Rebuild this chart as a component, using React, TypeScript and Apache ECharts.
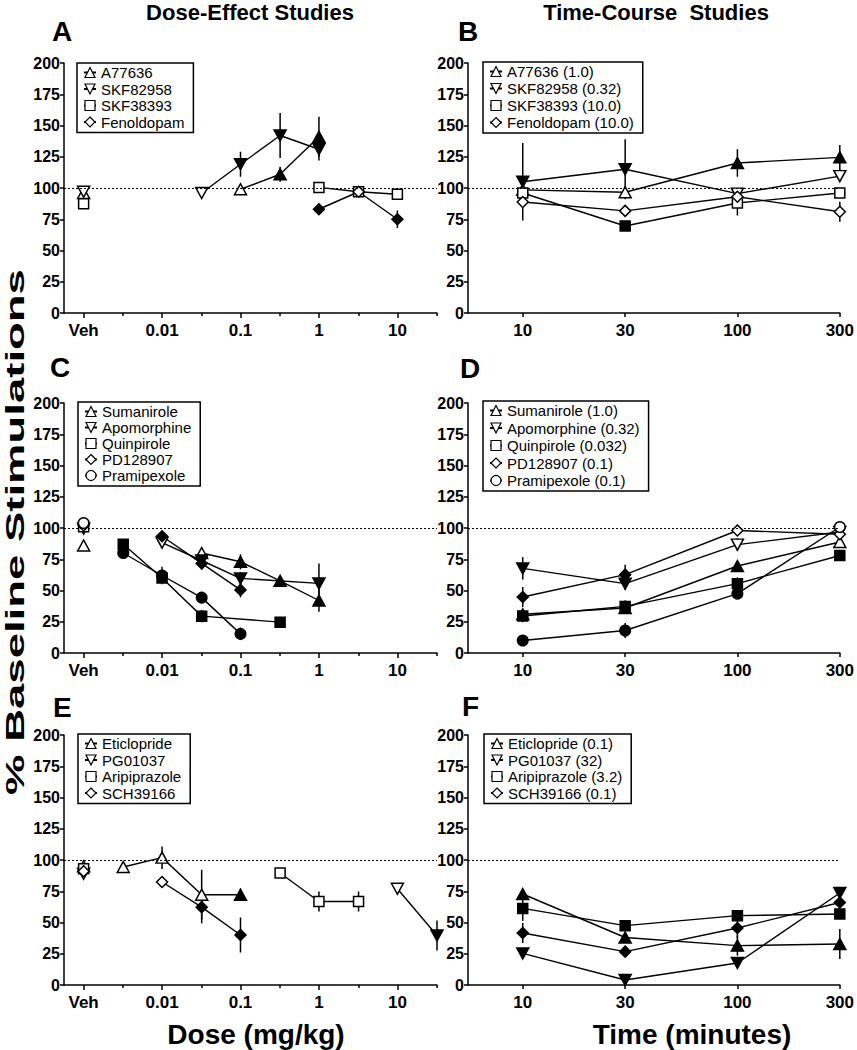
import React, { useEffect, useRef } from 'react';
import * as echarts from 'echarts';

const FONT = 'Arial, "Liberation Sans", Helvetica, sans-serif';

// Tick labels
const doseTickLabels = ['Veh', '0.01', '0.1', '1', '10'];
const doseTickDoses = [0, 0.01, 0.1, 1, 10]; // 0 = vehicle
const doseMinorDoses = [0.0032, 0.032, 0.32, 3.2, 32];
const timeTicks = [10, 30, 100, 300];

// Rows: [dose mg/kg (0 = vehicle) or time min, mean % baseline, SEM, filled (1 = significant)]
const A_A77636 = [[0, 96, 0, 0], [0.1, 99, 0, 0], [0.32, 111, 6, 1], [1, 141, 16, 1]];
const A_SKF82958 = [[0, 97, 0, 0], [0.032, 96, 0, 0], [0.1, 119, 10, 1], [0.32, 142, 18, 1], [1, 131, 9, 1]];
const A_SKF38393 = [[0, 87.5, 0, 0], [1, 100.5, 0, 0], [3.2, 97, 4, 0], [10, 95, 0, 0]];
const A_Fenoldopam = [[1, 83, 0, 1], [3.2, 97, 0, 0], [10, 75, 7, 1]];

const B_A77636 = [[10, 98.5, 0, 0], [30, 96.6, 0, 0], [100, 120, 11, 1], [300, 124.5, 10, 1]];
const B_SKF82958 = [[10, 105, 31, 1], [30, 115, 24, 1], [100, 95.5, 0, 0], [300, 109.5, 0, 0]];
const B_SKF38393 = [[10, 96, 0, 0], [30, 69.6, 0, 1], [100, 88, 10, 0], [300, 96, 0, 0]];
const B_Fenoldopam = [[10, 88.8, 0, 0], [30, 81.7, 0, 0], [100, 93, 0, 0], [300, 81, 8, 0]];

const C_Sumanirole = [[0, 86, 0, 0], [0.032, 80, 0, 0], [0.1, 73, 6, 1], [0.32, 57.7, 0, 1], [1, 42, 9, 1]];
const C_Apomorphine = [[0, 99.5, 0, 0], [0.01, 88.3, 0, 0], [0.032, 74, 0, 1], [0.1, 59.7, 5, 1], [1, 55.7, 16, 1]];
const C_Quinpirole = [[0, 101, 0, 0], [0.0032, 87, 0, 1], [0.01, 60, 0, 1], [0.032, 29.5, 5, 1], [0.32, 24.7, 0, 1]];
const C_PD128907 = [[0, 102, 0, 0], [0.01, 93.4, 0, 1], [0.032, 71.7, 5, 1], [0.1, 50.5, 6, 1]];
const C_Pramipexole = [[0, 104, 0, 0], [0.0032, 80, 4, 1], [0.01, 62, 7, 1], [0.032, 44.3, 0, 1], [0.1, 15.3, 5, 1]];

const D_Sumanirole = [[10, 31, 0, 1], [30, 36, 0, 1], [100, 69.6, 0, 1], [300, 88.8, 0, 0]];
const D_Apomorphine = [[10, 67.7, 9, 1], [30, 55.5, 5, 1], [100, 86.7, 5, 0], [300, 96.8, 0, 0]];
const D_Quinpirole = [[10, 29.6, 5, 1], [30, 37.3, 5, 1], [100, 55.5, 5, 1], [300, 78, 4, 1]];
const D_PD128907 = [[10, 44.8, 8, 1], [30, 62.7, 8, 1], [100, 98, 4, 0], [300, 95, 0, 0]];
const D_Pramipexole = [[10, 10, 0, 1], [30, 18, 6, 1], [100, 47.5, 4, 1], [300, 100.8, 0, 0]];

const E_Eticlopride = [[0, 95, 0, 0], [0.0032, 94.4, 0, 0], [0.01, 101.9, 9, 0], [0.032, 72.2, 20, 0], [0.1, 72.2, 5, 1]];
const E_PG01037 = [[0, 89, 0, 0], [10, 77, 0, 0], [32, 39.6, 12, 1]];
const E_Aripiprazole = [[0, 93, 0, 0], [0.32, 89.6, 0, 0], [1, 66.8, 8, 0], [3.2, 66.8, 8, 0]];
const E_SCH39166 = [[0, 91, 0, 0], [0.01, 82.4, 0, 0], [0.032, 62.3, 13, 1], [0.1, 40, 14, 1]];

const F_Eticlopride = [[10, 72.8, 0, 1], [30, 38, 0, 1], [100, 31.5, 8, 1], [300, 32.8, 12, 1]];
const F_PG01037 = [[10, 25.3, 0, 1], [30, 4, 0, 1], [100, 17.6, 0, 1], [300, 73.6, 0, 1]];
const F_Aripiprazole = [[10, 61.3, 10, 1], [30, 47.5, 0, 1], [100, 55.5, 0, 1], [300, 56.8, 0, 1]];
const F_SCH39166 = [[10, 41.6, 8, 1], [30, 26.7, 0, 1], [100, 45.6, 8, 1], [300, 66, 0, 1]];

const namesA = ['A77636', 'SKF82958', 'SKF38393', 'Fenoldopam'];
const namesB = ['A77636 (1.0)', 'SKF82958 (0.32)', 'SKF38393 (10.0)', 'Fenoldopam (10.0)'];
const namesC = ['Sumanirole', 'Apomorphine', 'Quinpirole', 'PD128907', 'Pramipexole'];
const namesD = ['Sumanirole (1.0)', 'Apomorphine (0.32)', 'Quinpirole (0.032)', 'PD128907 (0.1)', 'Pramipexole (0.1)'];
const namesE = ['Eticlopride', 'PG01037', 'Aripiprazole', 'SCH39166'];
const namesF = ['Eticlopride (0.1)', 'PG01037 (32)', 'Aripiprazole (3.2)', 'SCH39166 (0.1)'];

const SHAPES: Record<string, { symbol: string; rotate: number; size: any }> = {
  up: { symbol: 'triangle', rotate: 0, size: [12, 11] },
  down: { symbol: 'triangle', rotate: 180, size: [12, 11] },
  square: { symbol: 'rect', rotate: 0, size: 10 },
  diamond: { symbol: 'diamond', rotate: 0, size: 11 },
  circle: { symbol: 'circle', rotate: 0, size: 10.5 },
};

const panels = [
  { letter: 'A', kind: 'dose', col: 0, row: 0, names: namesA, data: [A_A77636, A_SKF82958, A_SKF38393, A_Fenoldopam], shapes: ['up', 'down', 'square', 'diamond'], legend: { left: 77, top: 63, gap: 1.5 } },
  { letter: 'B', kind: 'time', col: 1, row: 0, names: namesB, data: [B_A77636, B_SKF82958, B_SKF38393, B_Fenoldopam], shapes: ['up', 'down', 'square', 'diamond'], legend: { left: 483, top: 62, gap: 2 } },
  { letter: 'C', kind: 'dose', col: 0, row: 1, names: namesC, data: [C_Sumanirole, C_Apomorphine, C_Quinpirole, C_PD128907, C_Pramipexole], shapes: ['up', 'down', 'square', 'diamond', 'circle'], legend: { left: 78, top: 402, gap: 1 } },
  { letter: 'D', kind: 'time', col: 1, row: 1, names: namesD, data: [D_Sumanirole, D_Apomorphine, D_Quinpirole, D_PD128907, D_Pramipexole], shapes: ['up', 'down', 'square', 'diamond', 'circle'], legend: { left: 483, top: 401, gap: 2.5 } },
  { letter: 'E', kind: 'dose', col: 0, row: 2, names: namesE, data: [E_Eticlopride, E_PG01037, E_Aripiprazole, E_SCH39166], shapes: ['up', 'down', 'square', 'diamond'], legend: { left: 78, top: 734, gap: 1.5 } },
  { letter: 'F', kind: 'time', col: 1, row: 2, names: namesF, data: [F_Eticlopride, F_PG01037, F_Aripiprazole, F_SCH39166], shapes: ['up', 'down', 'square', 'diamond'], legend: { left: 484, top: 734, gap: 1.5 } },
];

const GRID_LEFT = [64, 468];
const GRID_WIDTH = [373, 375];
const GRID_TOP = [63, 403, 735];
const GRID_HEIGHT = 250;
const LETTER_POS = [[52, 31.5], [458, 31.5], [50, 367.5], [460, 368.5], [53, 707.5], [462, 706]];

const VEH_LOG = -3;
const doseX = (d: number) => (d === 0 ? VEH_LOG : Math.log10(d));
const timeX = (t: number) => Math.log10(t);

function buildOption() {
  const grid: any[] = [];
  const xAxis: any[] = [];
  const yAxis: any[] = [];
  const series: any[] = [];
  const legend: any[] = [];
  const graphic: any[] = [];
  const axisLineStyle = { color: '#000', width: 1.5 };
  const minorAxes: any[] = [];

  panels.forEach((p, i) => {
    grid.push({ left: GRID_LEFT[p.col], width: GRID_WIDTH[p.col], top: GRID_TOP[p.row], height: GRID_HEIGHT, containLabel: false });
    const isDose = p.kind === 'dose';
    const xmin = isDose ? -3.25 : Math.log10(10) - 0.255;
    const xmax = isDose ? Math.log10(32) : Math.log10(300);
    const majorVals = isDose ? doseTickDoses.map(doseX) : timeTicks.map(timeX);
    xAxis.push({
      type: 'value', gridIndex: i, min: xmin, max: xmax, position: 'bottom',
      axisLine: { show: true, onZero: false, lineStyle: axisLineStyle },
      axisTick: { show: true, customValues: majorVals, length: isDose ? 5 : 4, lineStyle: axisLineStyle },
      axisLabel: {
        show: true, customValues: majorVals, margin: 9,
        fontSize: 17, fontWeight: 'bold', color: '#000', fontFamily: FONT,
        formatter: (v: number) => {
          if (isDose) {
            const idx = majorVals.findIndex((t) => Math.abs(t - v) < 1e-6);
            return idx >= 0 ? doseTickLabels[idx] : '';
          }
          return String(Math.round(Math.pow(10, v)));
        },
      },
      splitLine: { show: false },
    });
    if (isDose) {
      minorAxes.push({
        type: 'value', gridIndex: i, min: xmin, max: xmax, position: 'bottom', offset: 0,
        axisLine: { show: false, onZero: false },
        axisTick: { show: true, customValues: doseMinorDoses.map(doseX), length: 3, lineStyle: axisLineStyle },
        axisLabel: { show: false },
        splitLine: { show: false },
      });
    }
    yAxis.push({
      type: 'value', gridIndex: i, min: 0, max: 200, interval: 25, position: 'left',
      axisLine: { show: true, onZero: false, lineStyle: axisLineStyle },
      axisTick: { show: true, length: 4, lineStyle: axisLineStyle },
      axisLabel: { fontSize: 16, fontWeight: 'bold', color: '#000', fontFamily: FONT, margin: 4 },
      splitLine: { show: false },
    });

    const toX = isDose ? doseX : timeX;
    const errData: any[] = [];
    p.data.forEach((rows, si) => {
      const shp = SHAPES[p.shapes[si]];
      const mkItem = (r: number[]) => ({
        value: [toX(r[0]), r[1]],
        itemStyle: { color: r[3] ? '#000' : '#fff', borderColor: '#000', borderWidth: 1.5, opacity: 1 },
      });
      rows.forEach((r) => { if (r[2] > 0) errData.push([toX(r[0]), r[1], r[2]]); });
      const main = rows.filter((r) => !(isDose && r[0] === 0));
      const veh = rows.filter((r) => isDose && r[0] === 0);
      const s: any = {
        type: 'line', name: p.names[si], xAxisIndex: i, yAxisIndex: i, z: 3,
        symbol: shp.symbol, symbolSize: shp.size, symbolRotate: shp.rotate, showAllSymbol: true,
        clip: false, silent: true, emphasis: { disabled: true },
        itemStyle: { color: '#fff', borderColor: '#000', borderWidth: 1.5, opacity: 1 },
        lineStyle: { color: '#000', width: 1.4 },
        data: main.map(mkItem),
      };
      if (si === 0) {
        s.markLine = {
          silent: true, symbol: ['none', 'none'], label: { show: false },
          lineStyle: { color: '#000', type: [2, 2], width: 1.1 },
          data: [{ yAxis: 100 }],
        };
      }
      series.push(s);
      if (veh.length) {
        series.push({
          type: 'scatter', name: `${p.letter}-veh-${si}`, xAxisIndex: i, yAxisIndex: i, z: 3,
          symbol: shp.symbol, symbolSize: shp.size, symbolRotate: shp.rotate, clip: false, silent: true,
          emphasis: { disabled: true },
          itemStyle: { color: '#fff', borderColor: '#000', borderWidth: 1.5, opacity: 1 },
          data: veh.map(mkItem),
        });
      }
    });
    series.push({
      type: 'custom', name: `${p.letter}-err`, xAxisIndex: i, yAxisIndex: i, z: 2, silent: true, clip: false,
      encode: { x: 0, y: 1 },
      renderItem: (params: any, api: any) => {
        const x = api.value(0), y = api.value(1), e = api.value(2);
        const a = api.coord([x, y - e]);
        const b = api.coord([x, y + e]);
        return { type: 'line', shape: { x1: a[0], y1: a[1], x2: b[0], y2: b[1] }, style: { stroke: '#000', lineWidth: 1.5 } };
      },
      data: errData,
    });

    legend.push({
      show: true, orient: 'vertical', left: p.legend.left, top: p.legend.top,
      data: p.names, selectedMode: false,
      borderColor: '#000', borderWidth: 1.5, padding: [2, 9, 3, 6],
      itemGap: p.legend.gap, itemWidth: 12, itemHeight: 12.5,
      itemStyle: { borderWidth: 1.2 },
      textStyle: { fontSize: 15, color: '#000', fontFamily: FONT, lineHeight: 15 },
    });

    graphic.push({
      type: 'text', x: LETTER_POS[i][0], y: LETTER_POS[i][1],
      style: { text: p.letter, font: `bold 28px ${FONT}`, fill: '#000', align: 'left', verticalAlign: 'middle' },
    });
  });

  graphic.push(
    { type: 'text', x: 250, y: 12, style: { text: 'Dose-Effect Studies', font: `bold 22px ${FONT}`, fill: '#000', align: 'center', verticalAlign: 'middle' } },
    { type: 'text', x: 656, y: 12, style: { text: 'Time-Course  Studies', font: `bold 22px ${FONT}`, fill: '#000', align: 'center', verticalAlign: 'middle' } },
    { type: 'text', x: 256, y: 1034, style: { text: 'Dose (mg/kg)', font: `bold 28px ${FONT}`, fill: '#000', align: 'center', verticalAlign: 'middle' } },
    { type: 'text', x: 692, y: 1034, style: { text: 'Time (minutes)', font: `bold 28px ${FONT}`, fill: '#000', align: 'center', verticalAlign: 'middle' } },
    {
      type: 'text', x: 15, y: 532, rotation: Math.PI / 2, scaleX: 1.75, scaleY: 1,
      style: { text: '% Baseline Stimulations', font: `bold 26px ${FONT}`, fill: '#000', align: 'center', verticalAlign: 'middle' },
    },
  );

  return {
    animation: false,
    backgroundColor: '#fff',
    grid, xAxis: [...xAxis, ...minorAxes], yAxis, series, legend, graphic,
  };
}

export default function App() {
  const ref = useRef<HTMLDivElement>(null);
  useEffect(() => {
    document.body.style.margin = '0';
    if (!ref.current) return;
    const chart = echarts.init(ref.current, undefined, { renderer: 'svg' });
    chart.setOption(buildOption() as any);
    return () => chart.dispose();
  }, []);
  return <div ref={ref} style={{ width: 857, height: 1050 }} />;
}
